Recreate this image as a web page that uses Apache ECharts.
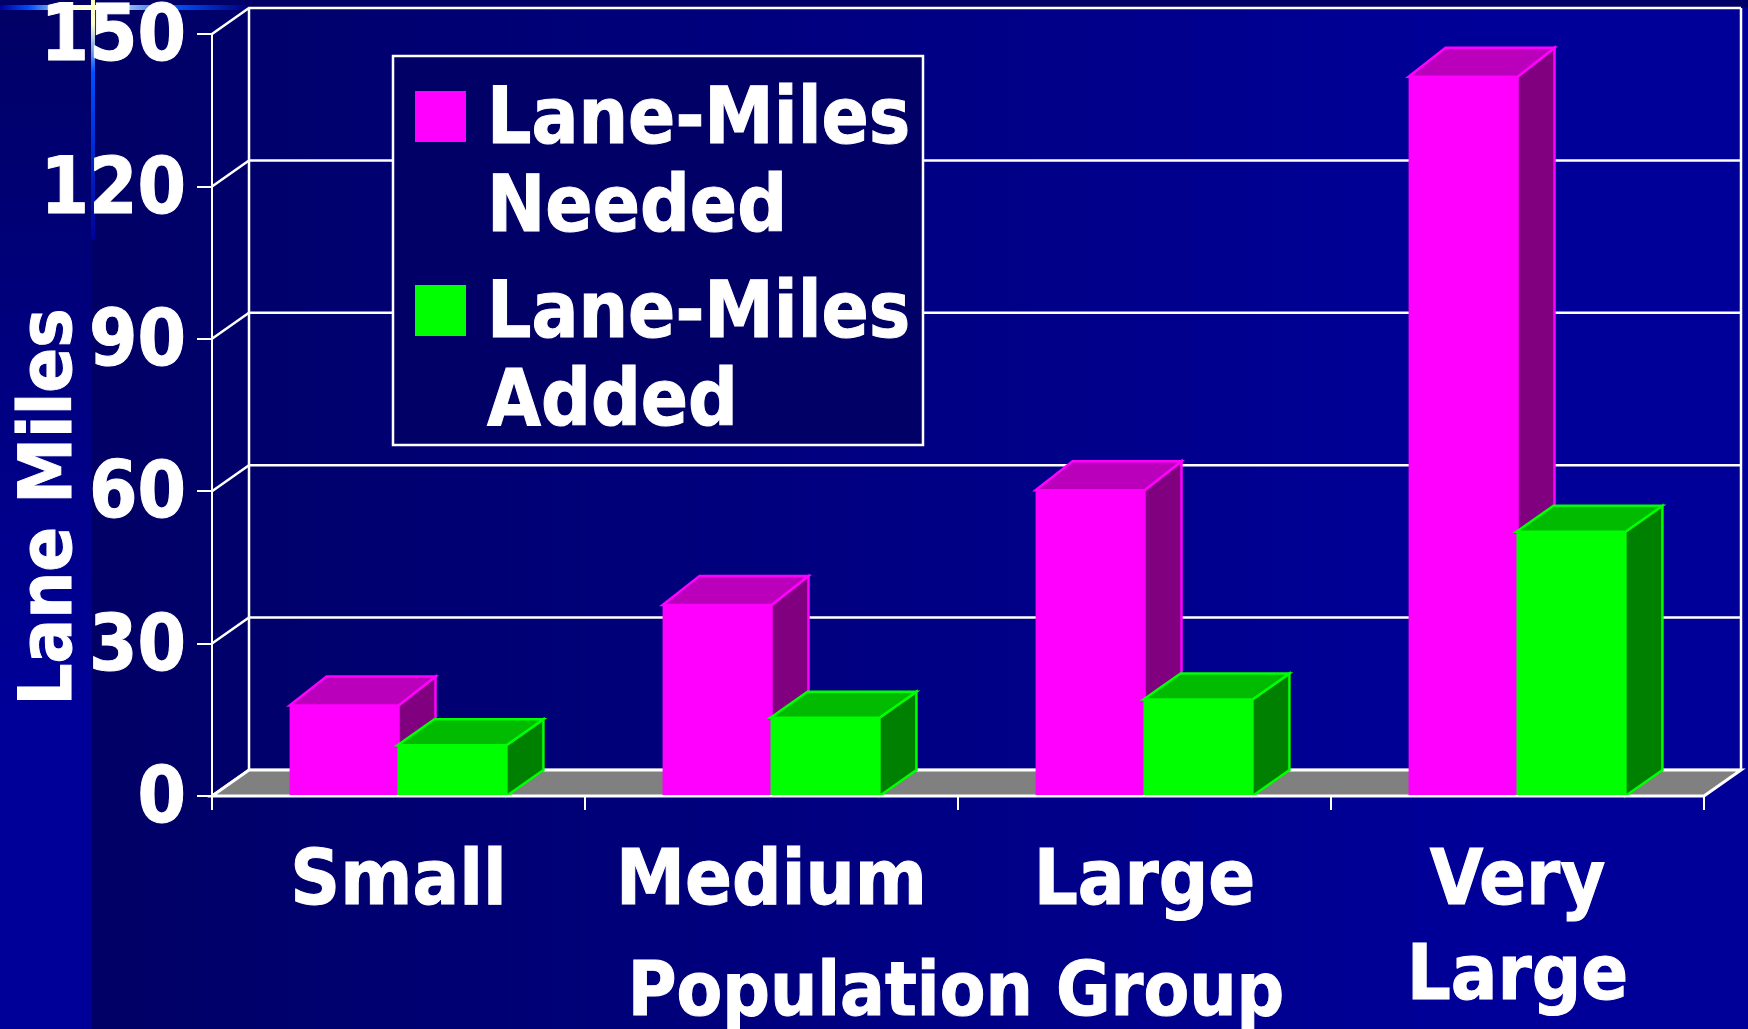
<!DOCTYPE html>
<html>
<head>
<meta charset="utf-8">
<title>Lane Miles by Population Group</title>
<style>
  html, body { margin: 0; padding: 0; background: #000066; }
  #main { width: 1748px; height: 1029px; }
</style>
<script src="https://cdn.jsdelivr.net/npm/echarts@6/dist/echarts.min.js"></script>
</head>
<body>
<div id="main"></div>
<script>
const categories = ["Small", "Medium", "Large", "Very\nLarge"];
const lanesNeeded = [17.8, 37.6, 60.2, 141.6];
const lanesAdded = [10, 15.4, 19, 52];
const yTicks = [0, 30, 60, 90, 120, 150];

const FONT = "'DejaVu Sans Condensed', 'DejaVu Sans', sans-serif";
const WHITE = "#ffffff";
// depth of the fake 3d box
const WALL_DX = 37, WALL_DY = 26;
const BAR_DX = 37;
const BAR_FRAC = 0.292;

function line(points, width) {
  return {
    type: "polyline",
    shape: { points },
    style: { fill: null, stroke: WHITE, lineWidth: width || 2.5 }
  };
}

// back wall lines, one per tick
function renderWall(params, api) {
  const cs = params.coordSys;
  const y = api.coord([0, api.value(0)])[1];
  return line([
    [cs.x, y],
    [cs.x + WALL_DX, y - WALL_DY],
    [cs.x + cs.width + WALL_DX, y - WALL_DY]
  ]);
}

function renderFloor(params) {
  const cs = params.coordSys;
  const bottom = cs.y + cs.height;
  const left = cs.x, right = cs.x + cs.width;
  return {
    type: "group",
    children: [
      {
        type: "polygon",
        shape: {
          points: [
            [left, bottom],
            [left + WALL_DX, bottom - WALL_DY],
            [right + WALL_DX, bottom - WALL_DY],
            [right, bottom]
          ]
        },
        style: { fill: "#808080", stroke: WHITE, lineWidth: 3 }
      },
      line([[left + WALL_DX, cs.y - WALL_DY], [left + WALL_DX, bottom - WALL_DY]]),
      line([[right + WALL_DX, cs.y - WALL_DY], [right + WALL_DX, bottom - WALL_DY]])
    ]
  };
}

function boxRenderer(colors, shift, depthY) {
  return function (params, api) {
    const top = api.coord([api.value(0), api.value(1)]);
    const base = api.coord([api.value(0), 0]);
    const band = api.size([1, 0])[0];
    const w = band * BAR_FRAC;
    const x = top[0] + shift * w - (shift < 0 ? 0 : 1);
    const y = top[1];
    const b = base[1];
    const edge = { stroke: colors.face, lineWidth: 2.5, lineJoin: "miter" };
    return {
      type: "group",
      children: [
        {
          type: "polygon",
          shape: { points: [[x + w, y], [x + w + BAR_DX, y - depthY], [x + w + BAR_DX, b - depthY], [x + w, b]] },
          style: { fill: colors.side, ...edge }
        },
        {
          type: "polygon",
          shape: { points: [[x, y], [x + BAR_DX, y - depthY], [x + w + BAR_DX, y - depthY], [x + w, y]] },
          style: { fill: colors.top, ...edge }
        },
        {
          type: "rect",
          shape: { x, y, width: w, height: b - y },
          style: { fill: colors.face }
        }
      ]
    };
  };
}

// square sits near the first text line, the empty moves stretch the icon box
const legendIcon = "path://M0,0L0,0M0,12H51V63H0ZM67,176L67,176";

const option = {
  animation: false,
  textStyle: { fontFamily: FONT },
  graphic: [
    {
      type: "rect", z: -10, silent: true,
      shape: { x: 92, y: 0, width: 1656, height: 1029 },
      style: {
        fill: new echarts.graphic.LinearGradient(0, 0, 1, 0, [
          { offset: 0, color: "#000066" },
          { offset: 0.85, color: "#000099" },
          { offset: 1, color: "#000099" }
        ])
      }
    },
    {
      type: "rect", z: -10, silent: true,
      shape: { x: 0, y: 0, width: 92, height: 1029 },
      style: {
        fill: new echarts.graphic.LinearGradient(0, 0, 0, 1, [
          { offset: 0, color: "#000066" },
          { offset: 0.7, color: "#000099" },
          { offset: 1, color: "#000099" }
        ])
      }
    },
    {
      type: "rect", z: -9, silent: true,
      shape: { x: 92, y: 0, width: 1656, height: 7 },
      style: { fill: "#000066" }
    },
    {
      type: "rect", z: -8, silent: true,
      shape: { x: 0, y: 5, width: 246, height: 5 },
      style: {
        fill: new echarts.graphic.LinearGradient(0, 0, 1, 0, [
          { offset: 0, color: "#000099" },
          { offset: 0.12, color: "#0050ff" },
          { offset: 0.3, color: "#ffffd0" },
          { offset: 0.4, color: "#ffffe0" },
          { offset: 0.7, color: "#0055ff" },
          { offset: 1, color: "#000080" }
        ])
      }
    },
    {
      type: "rect", z: -8, silent: true,
      shape: { x: 91, y: 0, width: 4, height: 240 },
      style: {
        fill: new echarts.graphic.LinearGradient(0, 0, 0, 1, [
          { offset: 0, color: "#ffffc0" },
          { offset: 0.1, color: "#ffffd0" },
          { offset: 0.3, color: "#0050ff" },
          { offset: 1, color: "#000099" }
        ])
      }
    },
    // legend box, the legend itself would be too tall with this line spacing
    {
      type: "rect", z: 5, silent: true,
      shape: { x: 393, y: 56, width: 530, height: 389 },
      style: { fill: "#000066", stroke: WHITE, lineWidth: 2.5 }
    }
  ],
  legend: {
    orient: "vertical",
    left: 392,
    top: 79,
    z: 6,
    padding: [0, 0, 0, 23],
    itemGap: 18,
    itemWidth: 67,
    itemHeight: 176,
    itemStyle: { borderWidth: 0 },
    textStyle: {
      color: WHITE, fontFamily: FONT, fontSize: 77.5, fontWeight: "bold", lineHeight: 88,
      textBorderColor: WHITE, textBorderWidth: 1
    },
    selectedMode: false,
    data: [
      { name: "Lane-Miles\nNeeded", icon: legendIcon },
      { name: "Lane-Miles\nAdded", icon: legendIcon }
    ]
  },
  grid: { left: 212, right: 44, top: 34, bottom: 233, outerBoundsMode: "none" },
  xAxis: {
    type: "category",
    data: categories,
    z: 5,
    name: "Population Group",
    nameLocation: "middle",
    nameGap: 163,
    nameMoveOverlap: false,
    nameTextStyle: {
      color: WHITE, fontFamily: FONT, fontSize: 74, fontWeight: "bold",
      padding: [0, 4, 0, 0], textBorderColor: WHITE, textBorderWidth: 1
    },
    axisLine: { lineStyle: { color: WHITE, width: 2 } },
    axisTick: { show: true, length: 14, lineStyle: { color: WHITE, width: 2 } },
    axisLabel: {
      interval: 0, margin: 40, color: WHITE, fontFamily: FONT,
      fontSize: 77, fontWeight: "bold", lineHeight: 95, textBorderColor: WHITE, textBorderWidth: 1
    },
    splitLine: { show: false }
  },
  yAxis: {
    type: "value",
    min: 0,
    max: 150,
    interval: 30,
    name: "Lane Miles",
    nameLocation: "middle",
    nameGap: 123,
    nameRotate: 90,
    nameMoveOverlap: false,
    nameTextStyle: {
      color: WHITE, fontFamily: FONT, fontSize: 73.5, fontWeight: "bold",
      padding: [0, 184, 0, 0], textBorderColor: WHITE, textBorderWidth: 1
    },
    axisLine: { show: true, lineStyle: { color: WHITE, width: 2 } },
    axisTick: { show: true, length: 15, lineStyle: { color: WHITE, width: 2 } },
    axisLabel: {
      margin: 26, verticalAlign: "top", lineHeight: 12, color: WHITE, fontFamily: FONT,
      fontSize: 77.5, fontWeight: "bold", textBorderColor: WHITE, textBorderWidth: 1
    },
    splitLine: { show: false }
  },
  series: [
    {
      type: "custom", name: "wall", z: 1, clip: false, silent: true,
      renderItem: renderWall,
      encode: { y: 0 },
      data: yTicks.map((t) => [t])
    },
    {
      type: "custom", name: "floor", z: 1, clip: false, silent: true,
      renderItem: renderFloor,
      data: [[0]]
    },
    {
      type: "custom", name: "Lane-Miles\nNeeded", z: 2, clip: false,
      itemStyle: { color: "#ff00ff" },
      renderItem: boxRenderer({ face: "#ff00ff", top: "#bb00bb", side: "#800080" }, -1, 29),
      encode: { x: 0, y: 1 },
      data: lanesNeeded.map((v, i) => [i, v])
    },
    {
      type: "custom", name: "Lane-Miles\nAdded", z: 3, clip: false,
      itemStyle: { color: "#00ff00" },
      renderItem: boxRenderer({ face: "#00ff00", top: "#00bb00", side: "#008000" }, 0, 26),
      encode: { x: 0, y: 1 },
      data: lanesAdded.map((v, i) => [i, v])
    }
  ]
};

const chart = echarts.init(document.getElementById("main"));
chart.setOption(option);
</script>
</body>
</html>
